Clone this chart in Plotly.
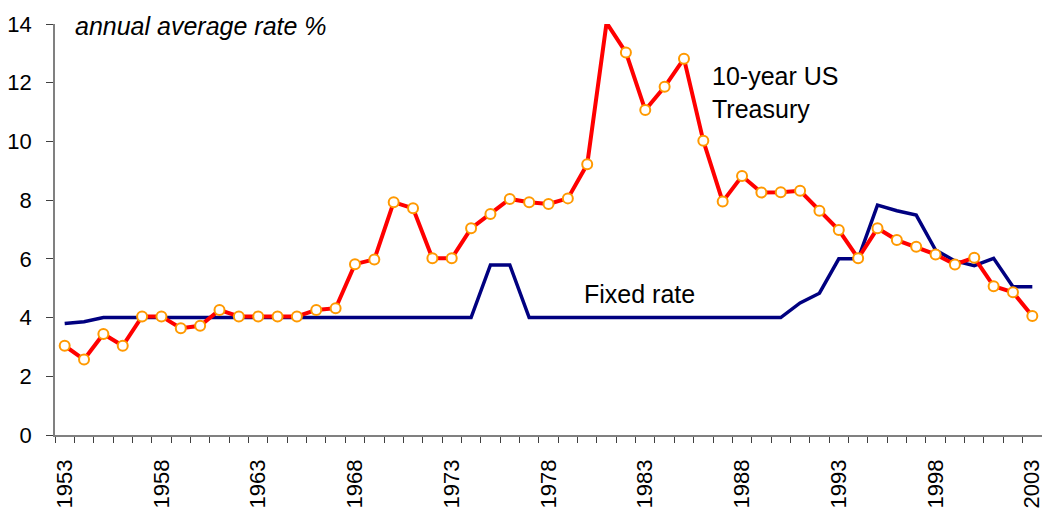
import plotly.graph_objects as go

years = list(range(1953, 2004))

treasury_10y = [3.04, 2.57, 3.44, 3.04, 4.04, 4.04, 3.64, 3.72, 4.26, 4.04,
                4.04, 4.04, 4.04, 4.26, 4.32, 5.82, 5.98, 7.93, 7.72, 6.02,
                6.02, 7.04, 7.53, 8.04, 7.93, 7.87, 8.06, 9.22, 14.04, 13.03,
                11.07, 11.86, 12.82, 10.02, 7.95, 8.82, 8.26, 8.27, 8.32, 7.64,
                6.98, 6.02, 7.04, 6.64, 6.41, 6.15, 5.81, 6.04, 5.07, 4.86,
                4.05]

fixed_rate = [3.8, 3.86, 4.0, 4.0, 4.0, 4.0, 4.0, 4.0, 4.0, 4.0,
              4.0, 4.0, 4.0, 4.0, 4.0, 4.0, 4.0, 4.0, 4.0, 4.0,
              4.0, 4.0, 5.79, 5.79, 4.0, 4.0, 4.0, 4.0, 4.0, 4.0,
              4.0, 4.0, 4.0, 4.0, 4.0, 4.0, 4.0, 4.0, 4.5, 4.83,
              6.0, 6.0, 7.83, 7.64, 7.49, 6.3, 5.93, 5.77, 6.02, 5.05,
              5.05]

label_years = list(range(1953, 2004, 5))
y_ticks = list(range(0, 15, 2))

FONT = "Liberation Sans, Arial, sans-serif"

fig = go.Figure()
fig.add_trace(go.Scatter(
    x=years, y=fixed_rate, mode="lines", name="Fixed rate",
    line=dict(color="#000080", width=3.5),
))
fig.add_trace(go.Scatter(
    x=years, y=treasury_10y, mode="lines+markers", name="10-year US Treasury",
    line=dict(color="#FF0000", width=4),
    marker=dict(symbol="circle", size=10, color="white",
                line=dict(color="#FF9900", width=2)),
    cliponaxis=False,
))

fig.add_annotation(x=1953.42, y=13.93, xref="x", yref="y",
                   text="<i>annual average rate %</i>", showarrow=False,
                   xanchor="left", yanchor="middle",
                   font=dict(family=FONT, size=25, color="black"))
fig.add_annotation(x=1986.37, y=11.65, xref="x", yref="y",
                   text="10-year US<br>Treasury", showarrow=False,
                   xanchor="left", yanchor="middle", align="left",
                   font=dict(family=FONT, size=25, color="black"))
fig.add_annotation(x=1979.73, y=4.79, xref="x", yref="y",
                   text="Fixed rate", showarrow=False,
                   xanchor="left", yanchor="middle",
                   font=dict(family=FONT, size=25, color="black"))

fig.update_layout(
    width=1042, height=510,
    margin=dict(l=55, r=0, t=24, b=75, autoexpand=False),
    paper_bgcolor="white", plot_bgcolor="white",
    showlegend=False,
    font=dict(family=FONT, size=22, color="black"),
)
fig.update_xaxes(
    range=[1952.5, 2003.5], automargin=False,
    tickmode="array", tickvals=label_years,
    ticktext=[str(v) for v in label_years],
    tickangle=-90, ticks="", showgrid=False, zeroline=False,
    showline=True, linecolor="#808080", linewidth=1.5,
    tickfont=dict(family=FONT, size=22, color="black"),
    ticklabelstandoff=14, ticklabeloverflow="allow",
    minor=dict(tickmode="array",
               tickvals=[y - 0.5 for y in years] + [2003.5],
               ticks="outside", ticklen=6, tickcolor="#404040", tickwidth=1,
               showgrid=False),
)
fig.update_yaxes(
    range=[0, 14], automargin=False, tickmode="array", tickvals=y_ticks,
    ticks="outside", ticklen=7, tickcolor="#404040", tickwidth=1,
    showgrid=False, zeroline=False,
    showline=True, linecolor="#808080", linewidth=1.5,
    tickfont=dict(family=FONT, size=22, color="black"),
    ticklabelstandoff=10, ticklabeloverflow="allow",
)

fig.write_html(
    "out.html",
    config={"displayModeBar": False},
    post_script="document.body.style.margin='0';document.body.style.overflow='hidden';",
)
